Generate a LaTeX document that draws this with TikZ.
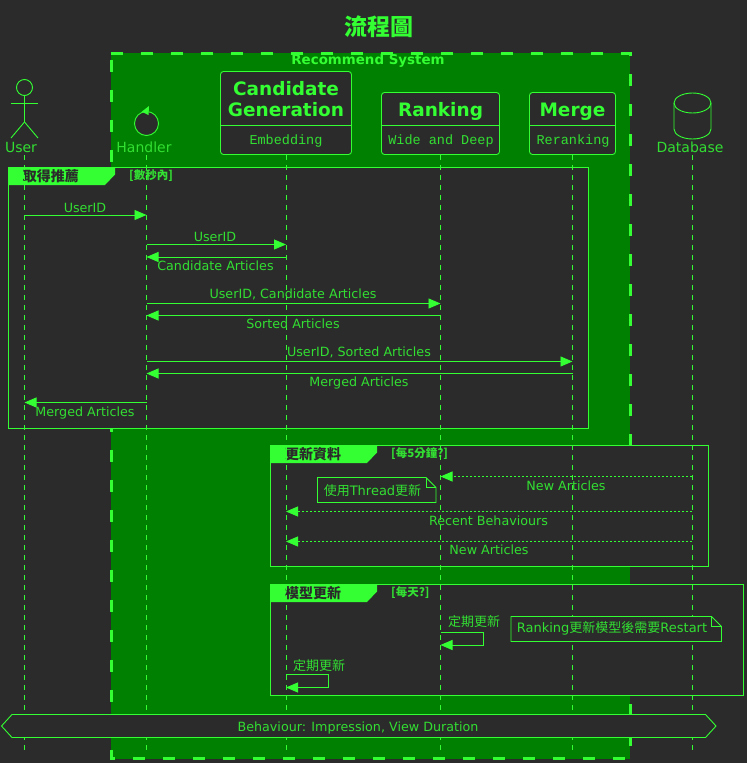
\documentclass[tikz,border=0pt]{standalone}
\usepackage{fontspec}
\setmainfont{DejaVu Sans}
\setmonofont{Liberation Mono}
\newfontfamily\cjk{Noto Sans CJK TC}
\usetikzlibrary{arrows.meta}
\definecolor{bgdark}{HTML}{2B2B2B}
\definecolor{boxgreen}{HTML}{008000}
\definecolor{neon}{HTML}{33FF33}
\colorlet{neontext}{neon!85!bgdark}
\tikzset{
    px/.style={font=\fontsize{#1}{#1}\selectfont},
    lbl/.style={text=neontext, inner sep=0pt, px=12.7},
    headbox/.style={draw=neon, fill=bgdark, rounded corners=3pt, line width=0.9pt, minimum height=#1, inner sep=0pt},
    headtitle/.style={text=neon, inner sep=0pt, font=\fontsize{18.5}{21}\selectfont\bfseries},
    headsub/.style={text=neontext, inner sep=0pt, font=\fontsize{13.5}{15}\selectfont\ttfamily},
    lifeline/.style={draw=neon, line width=0.8pt, dash pattern=on 5pt off 5pt},
    msg/.style={draw=neon, line width=0.9pt, -{Triangle[length=12pt,width=10pt]}},
    retmsg/.style={msg, dash pattern=on 2pt off 2pt},
    frame/.style={draw=neon, fill=bgdark, line width=0.9pt},
    tab/.style={fill=neon},
    tabtitle/.style={text=bgdark, inner sep=0pt, font=\fontsize{14}{15}\selectfont\cjk\bfseries},
    tabcond/.style={text=neontext, inner sep=0pt, anchor=west, font=\fontsize{11.5}{12}\selectfont\cjk\bfseries},
    note/.style={draw=neon, fill=bgdark, line width=0.9pt},
}
\begin{document}
\begin{tikzpicture}[x=1pt, y=-1pt]
    \fill[bgdark] (0,0) rectangle (747,763);
    \useasboundingbox (0,0) rectangle (747,763);

    \draw[neon, fill=boxgreen, line width=3pt, dash pattern=on 12pt off 18pt] (111,53) -- (630,53) -- (630,758.5) -- (111,758.5) -- cycle;
    \node[text=neon, inner sep=0pt, font=\fontsize{23}{25}\selectfont\cjk\bfseries] (title) at (379,27) {流程圖};
    \node[text=neon, inner sep=0pt, font=\fontsize{13.4}{15}\selectfont\bfseries] (sysTitle) at (368,60.5) {Recommend System};

    \foreach \fname/\xa/\ya/\xb/\yb/\tx/\ty/\ttl/\cnd/\tabx in {
        getRec/8.5/167.5/588.5/428/51/176/取得推薦/{[數秒內]}/115,
        updData/270.5/445.5/708.5/566.5/313/454/更新資料/{[每5分鐘?]}/377,
        updModel/270.5/584.5/743.5/695.5/313/593/模型更新/{[每天?]}/377}
    {
        \draw[frame] (\xa,\ya) rectangle (\xb,\yb);
        \fill[tab] (\xa,\ya) -- (\tabx,\ya) -- (\tabx,\ya+7) -- (\tabx-10,\ya+17.5) -- (\xa,\ya+17.5) -- cycle;
        \node[tabtitle] (\fname Title) at (\tx,\ty) {\ttl};
        \node[tabcond] (\fname Cond) at (\tabx+14,\ty) {\cnd};
    }

    \coordinate (user) at (24.5,155);
    \coordinate (handler) at (146.5,155);
    \coordinate (candidate) at (286,155);
    \coordinate (ranking) at (440.5,155);
    \coordinate (merge) at (572.5,155);
    \coordinate (database) at (692,155);

    \foreach \u in {user, handler, candidate, ranking, merge, database}
    {
        \coordinate (\u End) at (\u |- 0,751);
        \draw[lifeline] (\u) -- (\u End);
    }

    \node[headbox=83pt, minimum width=131pt] (candidateBox) at (286,113) {};
    \node[headbox=62pt, minimum width=118pt] (rankingBox) at (440.5,123.5) {};
    \node[headbox=62pt, minimum width=86pt] (mergeBox) at (572.5,123.5) {};
    \foreach \u in {candidate, ranking, merge}
    {
        \coordinate (\u DivL) at (\u Box.west |- 0,125.5);
        \coordinate (\u DivR) at (\u Box.east |- 0,125.5);
        \draw[neon, line width=0.9pt] (\u DivL) -- (\u DivR);
    }
    \node[headtitle] (candidateTop) at (286,89) {Candidate};
    \node[headtitle] (candidateBot) at (286,109.5) {Generation};
    \node[headtitle] (rankingTitle) at (440.5,111) {Ranking};
    \node[headtitle] (mergeTitle) at (572.5,112) {Merge};
    \node[headsub] (candidateSub) at (286,141) {Embedding};
    \node[headsub] (rankingSub) at (441,141) {Wide and Deep};
    \node[headsub] (mergeSub) at (573,141) {Reranking};

    \draw[neon, line width=0.9pt] (24.5,87.5) circle (8);
    \draw[neon, line width=0.9pt] (24.5,95.5) -- (24.5,122) -- (11,138);
    \draw[neon, line width=0.9pt] (24.5,122) -- (38,138);
    \draw[neon, line width=0.9pt] (11,103.5) -- (38,103.5);
    \node[lbl, px=14] (userName) at (21,147) {User};

    \draw[neon, fill=bgdark, line width=0.9pt] (146.5,123.5) circle (12);
    \fill[neon] (141.7,111.7) -- (149,106) -- (148.5,115) -- cycle;
    \node[lbl, px=14] (handlerName) at (144,147) {Handler};

    \draw[neon, line width=0.9pt] (674,103) arc[start angle=180, end angle=0, x radius=18.5, y radius=-10];
    \draw[neon, line width=0.9pt] (674,103) arc[start angle=180, end angle=360, x radius=18.5, y radius=-10];
    \draw[neon, line width=0.9pt] (674,103) -- (674,129) arc[start angle=180, end angle=360, x radius=18.5, y radius=-10] -- (711,103);
    \node[lbl, px=14] (databaseName) at (690,147) {Database};

    \foreach \a/\b/\y/\txt/\tx/\ty [count=\i] in {
        user/handler/215/UserID/85/208,
        handler/candidate/244.5/UserID/215/237,
        candidate/handler/257/Candidate Articles/215.5/265.5,
        handler/ranking/303.5/{UserID, Candidate Articles}/293/294.5,
        ranking/handler/315.5/Sorted Articles/293/323.5,
        handler/merge/361.5/{UserID, Sorted Articles}/359/352.5,
        merge/handler/373.5/Merged Articles/359/383,
        handler/user/402.5/Merged Articles/85/413}
    {
        \coordinate (msg\i From) at (\a |- 0,\y);
        \coordinate (msg\i To) at (\b |- 0,\y);
        \draw[msg] (msg\i From) -- (msg\i To);
        \node[lbl] (msg\i Text) at (\tx,\ty) {\txt};
    }

    \foreach \b/\y/\txt/\tx/\ty [count=\i] in {
        ranking/476.5/New Articles/566/486,
        candidate/511.5/Recent Behaviours/488.5/520.5,
        candidate/541.5/New Articles/489/549.5}
    {
        \coordinate (ret\i From) at (database |- 0,\y);
        \coordinate (ret\i To) at (\b |- 0,\y);
        \draw[retmsg] (ret\i From) -- (ret\i To);
        \node[lbl] (ret\i Text) at (\tx,\ty) {\txt};
    }

    \foreach \u/\ya/\yb/\xr/\tx/\ty in {ranking/632/645/483/474/622, candidate/674.5/687.5/328.5/319/666}
    {
        \coordinate (\u SelfA) at (\u |- 0,\ya);
        \coordinate (\u SelfB) at (\xr,\ya);
        \coordinate (\u SelfC) at (\xr,\yb);
        \coordinate (\u SelfD) at (\u |- 0,\yb);
        \draw[msg] (\u SelfA) -- (\u SelfB) -- (\u SelfC) -- (\u SelfD);
        \node[lbl, font=\fontsize{13}{15}\selectfont\cjk] (\u SelfText) at (\tx,\ty) {定期更新};
    }

    \foreach \nname/\xa/\ya/\xb/\yb/\tx/\ty/\txt in {
        threadNote/317.5/477.5/436/502.5/372.5/490.5/{{\cjk 使用}Thread{\cjk 更新}},
        restartNote/511/616.5/721.5/641.5/612/628.5/{Ranking{\cjk 更新模型後需要}Restart}}
    {
        \draw[note] (\xa,\ya) -- (\xb-10,\ya) -- (\xb,\ya+10) -- (\xb,\yb) -- (\xa,\yb) -- cycle;
        \draw[neon, line width=0.9pt] (\xb-10,\ya) -- (\xb-10,\ya+10) -- (\xb,\ya+10);
        \node[lbl, px=13] (\nname) at (\tx,\ty) {\txt};
    }

    \draw[note] (1.5,726) -- (12,714.5) -- (705.5,714.5) -- (716,726) -- (705.5,737.5) -- (12,737.5) -- cycle;
    \node[lbl] (behaviourText) at (358,728) {Behaviour: Impression, View Duration};
\end{tikzpicture}
\end{document}
